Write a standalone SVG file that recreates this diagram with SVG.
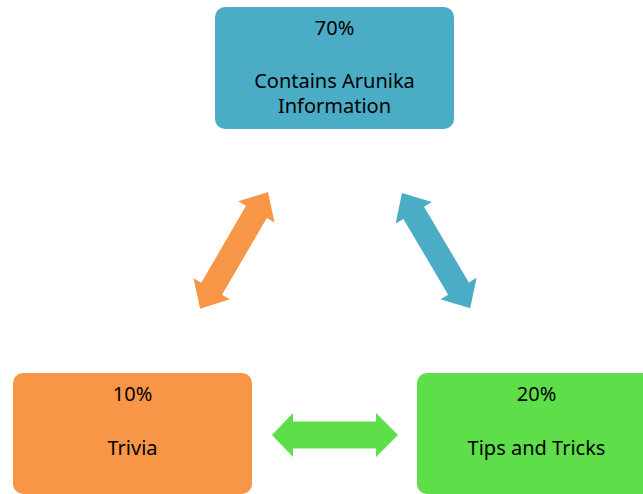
<svg xmlns="http://www.w3.org/2000/svg" width="643" height="494" viewBox="0 0 643 494">
<style>
text{font-family:"Noto Sans","Liberation Sans",sans-serif;font-size:20px;fill:#000;text-anchor:middle}
</style>
<rect width="643" height="494" fill="#fff"/>
<g id="connectors">
<polygon fill="#F79646" transform="translate(268,192) rotate(120.2)" points="0,0 23,-21 23,-12 112,-12 112,-21 135,0 112,21 112,12 23,12 23,21"/>
<polygon fill="#4BACC6" transform="translate(402,193) rotate(59.4)" points="0,0 23,-21 23,-12 111,-12 111,-21 134,0 111,21 111,12 23,12 23,21"/>
<polygon fill="#5EDF4A" transform="translate(272,435)" points="0,0 21,-22 21,-13.5 104,-13.5 104,-22 126,0 104,22 104,13.5 21,13.5 21,22"/>
</g>
<g id="top">
<rect x="215" y="7" width="239" height="122" rx="10" fill="#4BACC6"/>
<text x="334.5" y="35">70%</text>
<text x="334.5" y="88">Contains Arunika</text>
<text x="334.5" y="113">Information</text>
</g>
<g id="trivia">
<rect x="13" y="373" width="239" height="121" rx="10" fill="#F79646"/>
<text x="132.5" y="401">10%</text>
<text x="132.5" y="455">Trivia</text>
</g>
<g id="tips">
<rect x="417" y="373" width="239" height="121" rx="10" fill="#5EDF4A"/>
<text x="536.5" y="401">20%</text>
<text x="536.5" y="455">Tips and Tricks</text>
</g>
</svg>
